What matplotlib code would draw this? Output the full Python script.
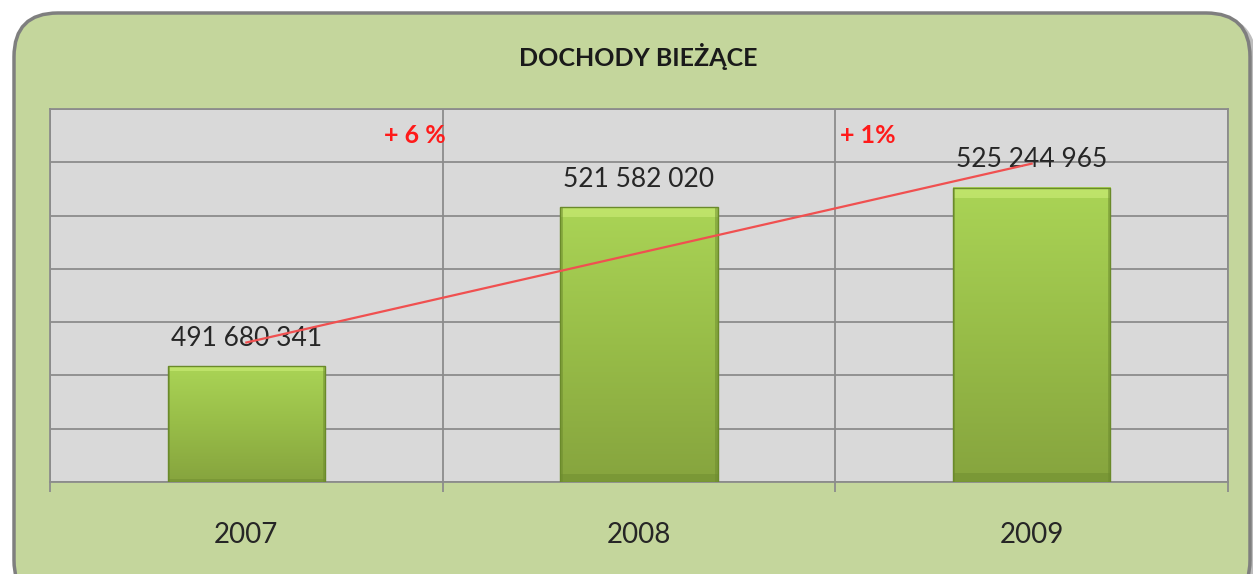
#!usr/bin/env python
'''
DOCHODY BIEZACE - bar chart 2007-2009 with growth labels
'''

import numpy as np
import matplotlib
matplotlib.use("Agg")
import matplotlib.pyplot as plt
from matplotlib.patches import FancyBboxPatch, Rectangle
from matplotlib.colors import LinearSegmentedColormap

years = ["2007", "2008", "2009"]
values = [491680341, 521582020, 525244965]
value_labels = ["491 680 341", "521 582 020", "525 244 965"]
growth_labels = ["+ 6 %", "+ 1%"]
title = "DOCHODY BIEŻĄCE"

plt.rcParams['font.family'] = ['Lato', 'DejaVu Sans']

W, H = 1253, 574


def draw_chart():
    fig = plt.figure(figsize=(W / 100, H / 100), dpi=100)
    fig.patch.set_facecolor("white")

    # rounded green frame (partly cut off at right / bottom like the screenshot)
    shadow = FancyBboxPatch((17 / W, -30 / H), 1240 / W, (574 - 14 + 30) / H,
                            boxstyle="round,pad=0,rounding_size=0.04",
                            transform=fig.transFigure, facecolor="#bdbdbd",
                            edgecolor="none", mutation_aspect=W / H, zorder=0)
    frame = FancyBboxPatch((14 / W, -30 / H), 1236 / W, (574 - 13 + 30) / H,
                           boxstyle="round,pad=0,rounding_size=0.035",
                           transform=fig.transFigure, facecolor="#c4d69c",
                           edgecolor="#7f7f7f", linewidth=2.5,
                           mutation_aspect=W / H, zorder=1)
    fig.patches.extend([shadow, frame])

    ax = fig.add_axes([50 / W, (H - 482) / H, (1228 - 50) / W, (482 - 109) / H])
    ax.set_zorder(2)
    ax.set_facecolor("#d9d9d9")

    x = np.arange(len(years))
    bars = ax.bar(x, values, width=0.4, color="none", edgecolor="none", zorder=3)

    ax.set_xlim(-0.5, len(years) - 0.5)
    ax.set_ylim(470e6, 540e6)
    ax.set_yticks(np.arange(470e6, 540e6 + 1, 10e6))
    ax.yaxis.grid(True, color="#8c8c8c", linewidth=1.3)
    ax.tick_params(axis="y", left=False, labelleft=False)

    # category boundaries as major ticks / vertical grid, labels on minor ticks
    ax.set_xticks(np.arange(-0.5, len(years)), labels=[""] * (len(years) + 1))
    ax.xaxis.grid(True, color="#8c8c8c", linewidth=1.3)
    ax.set_xticks(x, labels=years, minor=True)
    ax.tick_params(axis="x", which="major", length=7, width=1.3, color="#8c8c8c")
    ax.tick_params(axis="x", which="minor", length=0, pad=29,
                   labelsize=20, labelcolor="#262626")
    ax.set_axisbelow(True)
    for side in ["top", "right", "left", "bottom"]:
        ax.spines[side].set_color("#8c8c8c")
        ax.spines[side].set_linewidth(1.3)

    # gradient bars with a slight bevel
    cmap = LinearSegmentedColormap.from_list("g", ["#86a43e", "#98bd48", "#aad456"])
    grad = np.linspace(0, 1, 256).reshape(-1, 1)
    y0 = 470e6
    for b in bars:
        bx, bw, bh = b.get_x(), b.get_width(), b.get_height()
        ax.imshow(grad, cmap=cmap, origin="lower", aspect="auto",
                  extent=[bx, bx + bw, y0, bh], zorder=3)
        span = bh - y0
        ax.add_patch(Rectangle((bx, bh - span * 0.035), bw, span * 0.035,
                               facecolor="#c7ea72", edgecolor="none", alpha=0.7, zorder=4))
        ax.add_patch(Rectangle((bx, y0), bw, span * 0.03,
                               facecolor="#6f8d30", edgecolor="none", alpha=0.5, zorder=4))
        ax.add_patch(Rectangle((bx, y0), bw * 0.015, span, facecolor="#6d8b2f",
                               edgecolor="none", alpha=0.5, zorder=4))
        ax.add_patch(Rectangle((bx + bw * 0.985, y0), bw * 0.015, span, facecolor="#6d8b2f",
                               edgecolor="none", alpha=0.5, zorder=4))
        ax.add_patch(Rectangle((bx, y0), bw, span, facecolor="none",
                               edgecolor="#6a8a2a", linewidth=1.0, zorder=5))
    ax.set_xlim(-0.5, len(years) - 0.5)
    ax.set_ylim(470e6, 540e6)

    for xi, v, lab in zip(x, values, value_labels):
        ax.annotate(lab, (xi, v), xytext=(0, 11), textcoords="offset points",
                    ha="center", va="bottom", fontsize=19, color="#262626", zorder=6)

    # trend line drawn a bit above the first and last bars
    trend_offset = 4.5e6
    ax.plot([x[0], x[-1]], [values[0] + trend_offset, values[-1] + trend_offset],
            color="#f05050", linewidth=1.6, zorder=7)

    ax.text(0.5 + 0.008, 535e6, growth_labels[0], ha="right", va="center",
            fontsize=18, fontweight="bold", color="#ff1a1a", zorder=6)
    ax.text(1.5 + 0.013, 535e6, growth_labels[1], ha="left", va="center",
            fontsize=18, fontweight="bold", color="#ff1a1a", zorder=6)

    fig.text(638 / W, 1 - 56 / H, title, ha="center", va="center",
             fontsize=18, fontweight="bold", color="#1a1a1a", zorder=3)

    fig.savefig("out.png", dpi=100)


if __name__ == "__main__":
    draw_chart()
